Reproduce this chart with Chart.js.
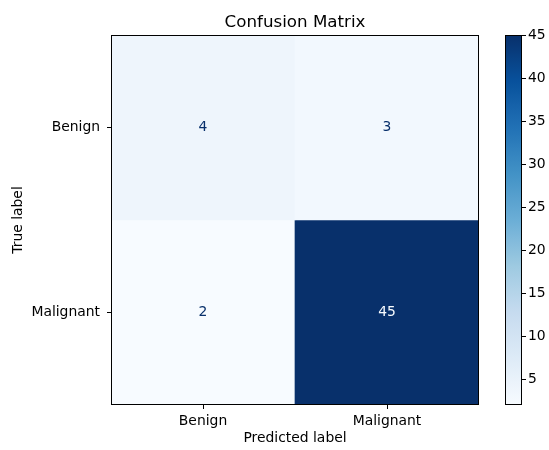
<!DOCTYPE html>
<html>
<head>
<meta charset="utf-8">
<script src="https://cdn.jsdelivr.net/npm/chart.js@4/dist/chart.umd.min.js"></script>
<style>
  html, body { margin: 0; padding: 0; background: #fff; }
  #wrap { position: relative; width: 549px; height: 450px; }
  #main { position: absolute; left: 0; top: 0; }
  #cbar { position: absolute; left: 490px; top: 0; }
</style>
</head>
<body>
<div id="wrap">
  <canvas id="main" width="490" height="450"></canvas>
  <canvas id="cbar" width="59" height="450"></canvas>
</div>
<script>
// datos de la matriz
const predLabels = ['Benign', 'Malignant'];
const trueLabels = ['Benign', 'Malignant'];
const matrix = [
  [4, 3],
  [2, 45]
];
const cbTicks = [5, 10, 15, 20, 25, 30, 35, 40, 45];
const vmin = 2;
const vmax = 45;

// mapa de color Blues (matplotlib)
const blues = [
  [247, 251, 255], [222, 235, 247], [198, 219, 239], [158, 202, 225],
  [107, 174, 214], [66, 146, 198], [33, 113, 181], [8, 81, 156], [8, 48, 107]
];
function bluesAt(t) {
  t = Math.max(0, Math.min(1, t));
  const p = t * (blues.length - 1);
  const i = Math.min(Math.floor(p), blues.length - 2);
  const f = p - i;
  const c = blues[i].map((v, k) => Math.round(v + (blues[i + 1][k] - v) * f));
  return `rgb(${c[0]},${c[1]},${c[2]})`;
}
const norm = v => (v - vmin) / (vmax - vmin);

const font = { family: 'DejaVu Sans', size: 13.9 };

const frame = {
  id: 'frame',
  afterDraw(chart) {
    const a = chart.chartArea, ctx = chart.ctx;
    ctx.save();
    ctx.strokeStyle = '#000';
    ctx.lineWidth = 1;
    ctx.strokeRect(Math.round(a.left) + 0.5, Math.round(a.top) + 0.5,
      Math.round(a.right - a.left) - 1, Math.round(a.bottom - a.top) - 1);
    ctx.restore();
  }
};

const cellText = {
  id: 'cellText',
  afterDatasetsDraw(chart) {
    const ctx = chart.ctx;
    const mid = (vmin + vmax) / 2;
    ctx.save();
    ctx.font = `${font.size}px ${font.family}`;
    ctx.textAlign = 'center';
    ctx.textBaseline = 'middle';
    chart.data.datasets.forEach((ds, i) => {
      chart.getDatasetMeta(i).data.forEach((bar, j) => {
        const v = matrix[i][j];
        ctx.fillStyle = v > mid ? bluesAt(0) : bluesAt(1);
        ctx.fillText(String(v), bar.x, (bar.y + bar.base) / 2);
      });
    });
    ctx.restore();
  }
};

new Chart(document.getElementById('main'), {
  type: 'bar',
  data: {
    labels: predLabels,
    datasets: trueLabels.map((t, i) => ({
      label: t,
      data: predLabels.map(() => [i, i + 1]),
      backgroundColor: matrix[i].map(v => bluesAt(norm(v))),
      borderWidth: 0,
      barPercentage: 1,
      categoryPercentage: 1
    }))
  },
  options: {
    responsive: false,
    animation: false,
    layout: { padding: { left: 0, right: 11, top: 0, bottom: 0 } },
    plugins: {
      legend: { display: false },
      tooltip: { enabled: false },
      title: {
        display: true,
        text: 'Confusion Matrix',
        fullSize: false,
        color: '#000',
        font: { family: 'DejaVu Sans', size: 16.7, weight: 'normal' },
        padding: { top: 13, bottom: 2 }
      }
    },
    scales: {
      x: {
        stacked: true,
        grid: { drawOnChartArea: false, drawTicks: true, tickLength: 4, color: '#000', offset: false },
        border: { display: false },
        ticks: { color: '#000', font: font, padding: 4 },
        title: { display: true, text: 'Predicted label', color: '#000', font: font, padding: { top: 0, bottom: 3 } },
        afterFit: s => { s.height = 45; }
      },
      y: {
        stacked: false,
        min: 0,
        max: 2,
        reverse: true,
        afterBuildTicks: s => { s.ticks = trueLabels.map((_, i) => ({ value: i + 0.5 })); },
        grid: { drawOnChartArea: false, drawTicks: true, tickLength: 4, color: '#000' },
        border: { display: false },
        ticks: { color: '#000', font: font, padding: 7, callback: (v, idx) => trueLabels[idx] },
        title: { display: true, text: 'True label', color: '#000', font: font, padding: { top: 10, bottom: 0 } },
        afterFit: s => { s.width = 111; }
      }
    }
  },
  plugins: [cellText, frame]
});

// barra de color
new Chart(document.getElementById('cbar'), {
  type: 'bar',
  data: {
    labels: [''],
    datasets: [{
      data: [[vmin, vmax]],
      borderWidth: 0,
      barPercentage: 1,
      categoryPercentage: 1,
      backgroundColor: ctx => {
        const a = ctx.chart.chartArea;
        if (!a) return null;
        const g = ctx.chart.ctx.createLinearGradient(0, a.bottom, 0, a.top);
        for (let k = 0; k <= 32; k++) g.addColorStop(k / 32, bluesAt(k / 32));
        return g;
      }
    }]
  },
  options: {
    responsive: false,
    animation: false,
    layout: { padding: { left: 15, right: 0, top: 35, bottom: 45 } },
    plugins: { legend: { display: false }, tooltip: { enabled: false } },
    scales: {
      x: { display: false },
      y: {
        position: 'right',
        min: vmin,
        max: vmax,
        afterBuildTicks: s => { s.ticks = cbTicks.map(v => ({ value: v })); },
        grid: { drawOnChartArea: false, drawTicks: true, tickLength: 4, color: '#000' },
        border: { display: false },
        ticks: { color: '#000', font: font, padding: 2 },
        afterFit: s => { s.width = 27; }
      }
    }
  },
  plugins: [frame]
});
</script>
</body>
</html>
